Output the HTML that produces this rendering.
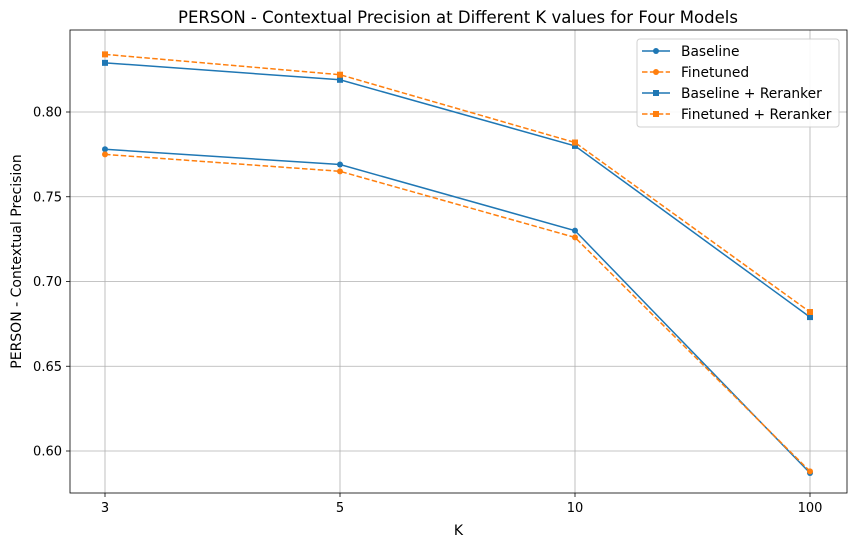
<!DOCTYPE html>
<html><head><meta charset="utf-8"><style>
body{margin:0;background:#fff;font-family:"Liberation Sans","DejaVu Sans",sans-serif}
svg text{font-family:"DejaVu Sans","Liberation Sans",sans-serif}
</style></head><body>
<svg id="c" width="855" height="547" xmlns="http://www.w3.org/2000/svg"></svg>
<script>
const categories=["3","5","10","100"];
const baseline=[0.778,0.769,0.730,0.587];
const finetuned=[0.775,0.765,0.726,0.588];
const baselineReranker=[0.829,0.819,0.780,0.679];
const finetunedReranker=[0.834,0.822,0.782,0.682];
const yTicks=[0.60,0.65,0.70,0.75,0.80];
const seriesNames=["Baseline","Finetuned","Baseline + Reranker","Finetuned + Reranker"];

const svg=document.getElementById('c');
const NS="http://www.w3.org/2000/svg";
const L=70,R=847,T=30,B=493;
const x0=105,x1=810;
function xs(i){return x0+i*(x1-x0)/(categories.length-1);}
function ys(v){return 451-(v-0.60)*(451-112)/0.20;}
function mk(t,a,p){const e=document.createElementNS(NS,t);for(const k in a)e.setAttribute(k,a[k]);(p||svg).appendChild(e);return e;}

const title=mk('text',{x:458,y:23,'text-anchor':'middle','font-size':16.5});
title.textContent="PERSON - Contextual Precision at Different K values for Four Models";



categories.forEach((c,i)=>{
  const g=mk('line',{x1:xs(i),x2:xs(i),y1:T,y2:B,stroke:'#b0b0b0','stroke-width':0.8});
  
  
  mk('line',{x1:xs(i),x2:xs(i),y1:B,y2:B+4,stroke:'#000','stroke-width':0.8});
  const t=mk('text',{x:xs(i),y:B+19,'text-anchor':'middle','font-size':13});
  t.textContent=c;
  
  
});
yTicks.forEach(v=>{
  const g=mk('line',{x1:L,x2:R,y1:ys(v),y2:ys(v),stroke:'#b0b0b0','stroke-width':0.8});
  
  
  mk('line',{x1:L-4,x2:L,y1:ys(v),y2:ys(v),stroke:'#000','stroke-width':0.8});
  const t=mk('text',{x:L-8,y:ys(v)+4.5,'text-anchor':'end','font-size':13});
  t.textContent=v.toFixed(2);
  
  
});
const frame=mk('rect',{x:L,y:T,width:R-L,height:B-T,fill:'none',stroke:'#000','stroke-width':0.8});


const xl=mk('text',{x:(L+R)/2,y:535,'text-anchor':'middle','font-size':14});xl.textContent="K";


const yl=mk('text',{x:21,y:(T+B)/2,'text-anchor':'middle','font-size':14,transform:`rotate(-90 21 ${(T+B)/2})`});
yl.textContent="PERSON - Contextual Precision";



const blue='#1f77b4',orange='#ff7f0e';
const series=[[baseline,blue,false,'circle'],[finetuned,orange,true,'circle'],[baselineReranker,blue,false,'square'],[finetunedReranker,orange,true,'square']];
function marker(x,y,col,shape,p){
  if(shape==='circle')return mk('circle',{cx:x,cy:y,r:3,fill:col},p);
  return mk('rect',{x:x-3,y:y-3,width:6,height:6,fill:col},p);
}
series.forEach((s,si)=>{
  const g=mk('g',{});
  
  
  const pts=s[0].map((v,i)=>xs(i)+','+ys(v)).join(' ');
  mk('polyline',{points:pts,fill:'none',stroke:s[1],'stroke-width':1.5,'stroke-dasharray':s[2]?'5.5,2.4':'none'},g);
  s[0].forEach((v,i)=>{
    const m=marker(xs(i),ys(v),s[1],s[3],g);
    
    
  });
});
const lg=mk('g',{});


mk('rect',{x:637,y:39,width:202,height:88,rx:3,fill:'#fff',stroke:'#ccc','stroke-width':1,opacity:0.9},lg);
series.forEach((s,i)=>{
  const y=51+i*21;
  const e=mk('g',{},lg);
  
  
  mk('line',{x1:642,x2:670,y1:y,y2:y,stroke:s[1],'stroke-width':1.5,'stroke-dasharray':s[2]?'5.5,2.4':'none'},e);
  marker(656,y,s[1],s[3],e);
  const t=mk('text',{x:681,y:y+5,'font-size':13.8},e);t.textContent=seriesNames[i];
});
</script>
</body></html>
